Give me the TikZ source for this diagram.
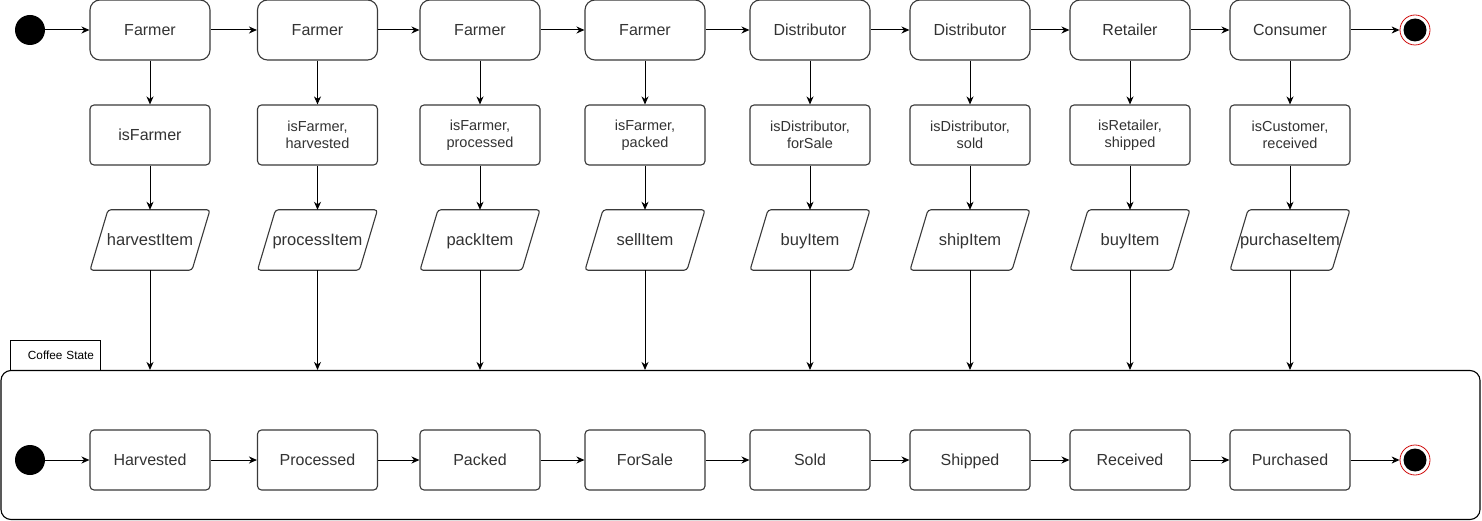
\documentclass[tikz,border=0pt]{standalone}
\usepackage{fontspec}
\setmainfont{Liberation Sans}
\usetikzlibrary{arrows.meta}
\definecolor{txt}{HTML}{333333}
\definecolor{edge}{HTML}{3A3A3A}
\definecolor{endred}{HTML}{D01010}
\tikzset{
  actor/.style={draw=edge, line width=1.1pt, rounded corners=10pt, minimum width=120pt, minimum height=60pt, inner sep=0pt, text=txt, text height=13pt, text depth=2pt, font=\fontsize{16}{19}\selectfont},
  guard/.style={draw=edge, line width=1.1pt, rounded corners=4pt, minimum width=120pt, minimum height=60pt, inner sep=0pt, text=txt, align=center, font=\fontsize{14.5}{17}\selectfont},
  guardone/.style={draw=edge, line width=1.1pt, rounded corners=4pt, minimum width=120pt, minimum height=60pt, inner sep=0pt, text=txt, text height=13pt, text depth=2pt, font=\fontsize{16}{19}\selectfont},
  action/.style={minimum width=120pt, minimum height=60pt, inner sep=0pt, text=txt, text height=13pt, text depth=2pt, font=\fontsize{16.5}{19}\selectfont},
  para/.style={draw=edge, line width=1.1pt, rounded corners=3pt},
  statebox/.style={draw=edge, line width=1.1pt, rounded corners=4pt, minimum width=120pt, minimum height=60pt, inner sep=0pt, text=txt, text height=13pt, text depth=2pt, font=\fontsize{16}{19}\selectfont},
  initial/.style={circle, fill=black, minimum size=30pt, inner sep=0pt},
  final/.style={circle, draw=endred, line width=0.8pt, fill=white, minimum size=30pt, inner sep=0pt,
    path picture={\fill[black] (path picture bounding box.center) circle (11.5pt);}},
  flow/.style={draw=black, line width=1pt, -{Stealth[length=8pt, width=7pt, inset=2.5pt]}},
}
\begin{document}
\begin{tikzpicture}[x=1pt, y=-1pt]
\useasboundingbox (0,0) rectangle (1482,521);
\fill[white] (0,0) rectangle (1482,521);

% container
\node[draw=black, line width=1.1pt, rounded corners=10pt, minimum width=1479pt, minimum height=149pt, inner sep=0pt] (cont) at (740.5,445) {};
\node[draw=black, line width=0.9pt, minimum width=90pt, minimum height=30pt, inner xsep=6pt, inner ysep=0pt, text width=78pt, align=right, font=\fontsize{11.8}{14}\selectfont] (tab) at (55,355) {Coffee State};

% start/end
\node[initial] (s0) at (30,30) {};
\node[final] (e0) at (1415,30) {};
\node[initial] (s1) at (30,460) {};
\node[final] (e1) at (1415,460) {};

\foreach \i/\x/\who/\act/\st in {
  1/150/Farmer/harvestItem/Harvested,
  2/317.5/Farmer/processItem/Processed,
  3/480/Farmer/packItem/Packed,
  4/645/Farmer/sellItem/ForSale,
  5/810/Distributor/buyItem/Sold,
  6/970/Distributor/shipItem/Shipped,
  7/1130/Retailer/buyItem/Received,
  8/1290/Consumer/purchaseItem/Purchased}{
  \node[actor] (a\i) at (\x,30) {\who};
  \node[action] (p\i) at (\x,240) {\act};
  \draw[para] ([xshift=-42pt]p\i.north) -- ([xshift=60pt]p\i.north) -- ([xshift=42pt]p\i.south) -- ([xshift=-60pt]p\i.south) -- cycle;
  \node[statebox] (b\i) at (\x,460) {\st};
}

\node[guardone] (g1) at (150,135) {isFarmer};
\node[guard] (g2) at (317.5,135) {isFarmer,\\harvested};
\node[guard] (g3) at (480,135) {isFarmer,\\processed};
\node[guard] (g4) at (645,135) {isFarmer,\\packed};
\node[guard] (g5) at (810,135) {isDistributor,\\forSale};
\node[guard] (g6) at (970,135) {isDistributor,\\sold};
\node[guard] (g7) at (1130,135) {isRetailer,\\shipped};
\node[guard] (g8) at (1290,135) {isCustomer,\\received};

\foreach \i in {1,...,8}{
  \draw[flow] (a\i) -- (g\i);
  \draw[flow] (g\i) -- (p\i);
  \draw[flow] (p\i.south) -- (p\i.south |- cont.north);
}
\foreach \i/\j in {1/2,2/3,3/4,4/5,5/6,6/7,7/8}{
  \draw[flow] (a\i) -- (a\j);
  \draw[flow] (b\i) -- (b\j);
}
\draw[flow] (s0) -- (a1);
\draw[flow] (a8) -- (e0);
\draw[flow] (s1) -- (b1);
\draw[flow] (b8) -- (e1);
\end{tikzpicture}
\end{document}
